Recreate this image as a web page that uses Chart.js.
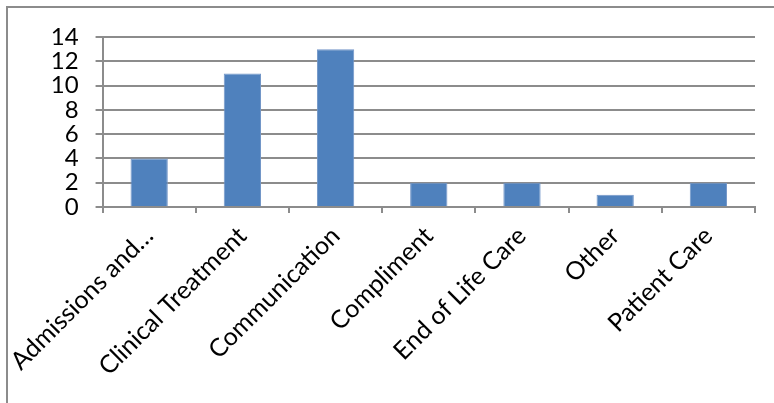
<!DOCTYPE html>
<html>
<head>
<meta charset="utf-8">
<script src="https://cdn.jsdelivr.net/npm/chart.js@4/dist/chart.umd.min.js"></script>
<style>
  body { margin: 0; background: #fff; }
  #wrap { position: relative; width: 774px; height: 403px; overflow: hidden; }
  #frame { position: absolute; left: 6px; top: 6px; width: 800px; height: 420px;
           border-left: 2px solid #8c8c8c; border-top: 2px solid #8c8c8c; }
  canvas { position: absolute; left: 0; top: 0; }
</style>
</head>
<body>
<div id="wrap">
  <div id="frame"></div>
  <canvas id="chart" width="774" height="403"></canvas>
</div>
<script>
// categories and counts
var categories = ['Admissions and…', 'Clinical Treatment', 'Communication', 'Compliment', 'End of Life Care', 'Other', 'Patient Care'];
var counts = [4, 11, 13, 2, 2, 1, 2];
var yTicks = [0, 2, 4, 6, 8, 10, 12, 14];

var gridColor = '#8c8c8c';
var ctx = document.getElementById('chart').getContext('2d');

var chartObj = new Chart(ctx, {
  type: 'bar',
  data: {
    labels: categories,
    datasets: [{
      data: counts,
      backgroundColor: '#4f81bd',
      borderColor: '#7396c8',
      borderWidth: 1,
      barPercentage: 0.4,
      categoryPercentage: 1
    }]
  },
  options: {
    responsive: false,
    animation: false,
    layout: { padding: { top: 37, right: 19, left: 0, bottom: 0 } },
    plugins: { legend: { display: false }, tooltip: { enabled: false } },
    scales: {
      x: {
        grid: { offset: true, drawOnChartArea: false, color: gridColor, lineWidth: 2, tickLength: 6 },
        border: { color: gridColor, width: 2 },
        ticks: {
          color: '#000',
          font: { family: 'Lato', size: 25 },
          minRotation: 45, maxRotation: 45,
          autoSkip: false,
          padding: 8
        },
        afterFit: function(scale) { scale.height = 196; }
      },
      y: {
        min: 0, max: 14,
        grid: { color: gridColor, lineWidth: 2, tickLength: 7 },
        border: { color: gridColor, width: 2 },
        afterBuildTicks: function(scale) {
          scale.ticks = yTicks.map(function(v) { return { value: v }; });
        },
        ticks: {
          color: '#000',
          font: { family: 'Lato', size: 24 },
          autoSkip: false,
          padding: 17
        },
        afterFit: function(scale) { scale.width = 102; }
      }
    }
  }
});
</script>
</body>
</html>
